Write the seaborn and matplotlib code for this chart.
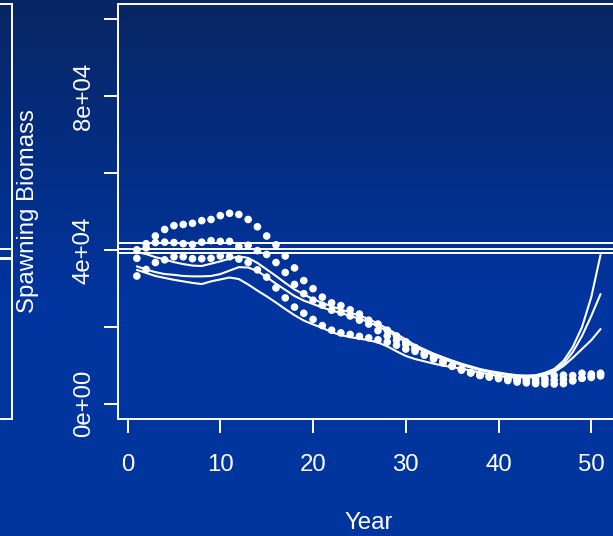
import numpy as np
import pandas as pd
import matplotlib
matplotlib.use("Agg")
import matplotlib.pyplot as plt
import seaborn as sns
from matplotlib.colors import LinearSegmentedColormap

# ---------------- data ----------------
years = list(range(1, 52))

solid_a = [39400, 38900, 38100, 37500, 36800, 36300, 35900, 35800, 36400, 37000,
           37700, 38300, 37900, 36600, 34900, 33200, 31400, 29700, 28400, 27200,
           26200, 25300, 24500, 23700, 22900, 22000, 20800, 19500, 18100, 16700,
           15200, 14100, 13000, 12100, 11200, 10400, 9700, 9000, 8500, 8100,
           7700, 7400, 7300, 7400, 8000, 9000, 11100, 14700, 19900, 27700, 38700]

solid_b = [35700, 34900, 34200, 33700, 33500, 33200, 33100, 33100, 33200, 33700,
           34600, 35500, 35400, 34500, 32900, 31200, 29600, 28000, 26800, 25900,
           25000, 24200, 23600, 22800, 22100, 21200, 20100, 18900, 17500, 16000,
           14700, 13600, 12500, 11600, 10800, 10000, 9400, 8700, 8200, 7800,
           7400, 7200, 7100, 7200, 7700, 8700, 10300, 13400, 17600, 22800, 28500]

solid_c = [34800, 34000, 33200, 32700, 32200, 31800, 31400, 31100, 31800, 32300,
           32800, 32400, 31000, 29400, 27900, 26300, 24600, 23000, 21600, 20600,
           19700, 18600, 17800, 17300, 16900, 16500, 15900, 14900, 13600, 12400,
           11600, 11000, 10400, 9900, 9500, 9100, 8600, 8100, 7600, 7200,
           6900, 6800, 6800, 6900, 7400, 8200, 9800, 11900, 14200, 16500, 19400]

dots_upper = [40000, 41600, 43600, 45300, 46300, 46600, 46900, 47600, 47900, 48900,
              49500, 49200, 47900, 46000, 43600, 41300, 38400, 35300, 32000, 29900,
              27700, 26200, 25500, 24400, 23300, 21700, 20700, 19100, 17600, 16100,
              14600, 13200, 12100, 11000, 9800, 8900, 8000, 7400, 7200, 7000,
              6700, 6400, 6300, 6400, 6600, 7300, 7400, 7300, 7900, 7700, 7900]

dots_mid = [37800, 40500, 41900, 42000, 41900, 41600, 41400, 42000, 42400, 42200,
            42200, 40900, 41200, 39800, 38800, 36700, 34100, 31000, 28600, 26900,
            25600, 24300, 23700, 22800, 21700, 20700, 19000, 17600, 16500, 15400,
            14200, 12900, 11900, 10700, 9800, 8900, 8100, 7400, 7000, 6800,
            6400, 6100, 5900, 5700, 5900, 6100, 6300, 6100, 6600, 6800, 7200]

dots_low = [33200, 34900, 36700, 37400, 38200, 38200, 37700, 37700, 37800, 38400,
            38200, 37600, 36700, 34800, 32900, 30100, 27500, 25100, 23500, 21900,
            20300, 19100, 18400, 18000, 17500, 17100, 16600, 16000, 15200, 14200,
            13600, 12600, 11600, 10600, 9700, 8700, 8000, 7300, 6900, 6500,
            6000, 5600, 5400, 5200, 5100, 5100, 5200, 5900, 6600, 7200, 7700]

ref_lines = [41700, 40100, 39100]
left_ref_lines = [40300, 38000, 37500]

x_ticks = [0, 10, 20, 30, 40, 50]
x_tick_labels = ["0", "10", "20", "30", "40", "50"]
y_ticks = [0, 20000, 40000, 60000, 80000, 100000]
y_tick_labels = ["0e+00", "", "4e+04", "", "8e+04", ""]

x_label = "Year"
y_label = "Spawning Biomass"

# ---------------- tables ----------------
lines_df = pd.concat([
    pd.DataFrame({"Year": years, "Biomass": solid_a, "run": "a"}),
    pd.DataFrame({"Year": years, "Biomass": solid_b, "run": "b"}),
    pd.DataFrame({"Year": years, "Biomass": solid_c, "run": "c"}),
], ignore_index=True)

dots_df = pd.concat([
    pd.DataFrame({"Year": years, "Biomass": dots_upper, "run": "u"}),
    pd.DataFrame({"Year": years, "Biomass": dots_mid, "run": "m"}),
    pd.DataFrame({"Year": years, "Biomass": dots_low, "run": "l"}),
], ignore_index=True)

# ---------------- figure ----------------
sns.set_theme(style="white")
plt.rcParams["font.family"] = ["Liberation Sans", "DejaVu Sans"]

W, H, DPI = 613, 536, 100
fig = plt.figure(figsize=(W / DPI, H / DPI), dpi=DPI)

# background gradient
bg = fig.add_axes([0, 0, 1, 1], zorder=-10)
cmap = LinearSegmentedColormap.from_list(
    "bg", [(0.0, "#082663"), (0.55, "#00349e"), (1.0, "#00369f")])
grad = np.linspace(0, 1, 256).reshape(-1, 1)
bg.imshow(grad, aspect="auto", cmap=cmap, extent=[0, 1, 0, 1], origin="upper")
bg.set_axis_off()

def px_axes(left, top, right, bottom):
    return [left / W, 1 - bottom / H, (right - left) / W, (bottom - top) / H]

white = "white"
LW = 1.4

# left (cut-off) panel
axl = fig.add_axes(px_axes(-488, 3.8, 12, 419))
axl.set_facecolor("none")
axl.set_xlim(-1, 53)
axl.set_ylim(-4000, 104000)
for yv in left_ref_lines:
    axl.axhline(yv, color=white, lw=LW)
for s in axl.spines.values():
    s.set_color(white)
    s.set_linewidth(LW)
axl.set_xticks([])
axl.set_yticks([])

# main panel
ax = fig.add_axes(px_axes(118.3, 3.8, 619.1, 419))
ax.set_facecolor("none")

for yv in ref_lines:
    ax.axhline(yv, color=white, lw=LW, zorder=2)

sns.lineplot(data=lines_df, x="Year", y="Biomass", units="run", estimator=None,
             color=white, lw=1.5, ax=ax, legend=False, zorder=3)
sns.scatterplot(data=dots_df, x="Year", y="Biomass", color=white, s=30,
                edgecolor="none", linewidth=0, ax=ax, legend=False, zorder=4)

ax.set_xlim(-1, 53)
ax.set_ylim(-4000, 104000)
ax.set_xticks(x_ticks)
ax.set_xticklabels(x_tick_labels)
ax.set_yticks(y_ticks)
ax.set_yticklabels(y_tick_labels, rotation=90, va="center")
ax.set_xlabel("")
ax.set_ylabel("")

for s in ax.spines.values():
    s.set_color(white)
    s.set_linewidth(LW)

FS = 17.3
ax.tick_params(axis="x", colors=white, length=10, width=LW, direction="out",
               pad=15.5, labelsize=FS, bottom=True)
ax.tick_params(axis="y", colors=white, length=10, width=LW, direction="out",
               pad=7, labelsize=FS, left=True)

fig.text(368.7 / W, 1 - 529 / H, x_label, color=white, fontsize=FS,
         ha="center", va="baseline")
fig.text(34.5 / W, 1 - 211.4 / H, y_label, color=white, fontsize=FS,
         rotation=90, rotation_mode="anchor", ha="center", va="baseline")

fig.savefig("out.png", dpi=DPI)
